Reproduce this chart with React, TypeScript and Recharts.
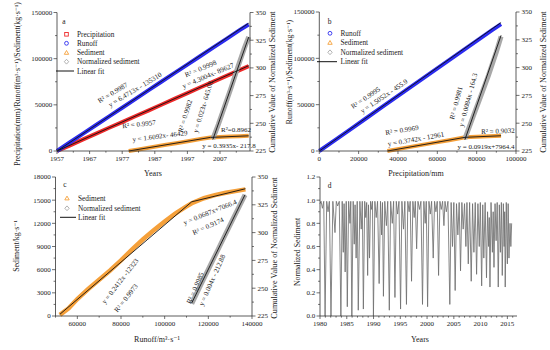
import React from 'react';
import { ComposedChart, Line, XAxis, YAxis } from 'recharts';

const FONT = '"Liberation Serif", "Times New Roman", "DejaVu Serif", serif';
const RED = '#ee2a2a';
const BLUE = '#2b2bf0';
const ORANGE = '#f5a03a';
const GRAY = '#a8a8a8';
const FIT = '#111111';
const AX = '#333333';

// ---------- Panel a (x = year) ----------
const yearsA = [1957, 1961, 1965, 1969, 1973, 1977, 1981, 1985, 1989, 1993, 1997, 2001, 2005, 2009, 2013, 2015.8];
const precipA = [0, 6100, 12600, 18900, 25200, 31300, 37600, 43800, 50100, 56500, 62700, 69000, 75200, 81400, 87600, 92000];
const runoffA = [0, 9500, 18900, 28200, 37500, 46800, 56200, 65600, 75000, 84300, 93600, 102900, 112200, 121400, 130900, 137000];
const fitYearsA = [1957, 2015.8];
const precipFitA = [0, 92360];
const runoffFitA = [0, 138400];
const sedYearsA = [1979, 1982, 1986, 1990, 1994, 1998, 2001, 2004, 2007, 2010, 2013, 2015.8];
const sedA = [0, 1700, 4000, 6400, 8700, 11000, 12900, 14700, 15200, 15600, 16000, 16400];
const sedFitYearsA = [1979, 2004.1, 2015.8];
const sedFitA = [0, 14740, 16430];
const normYearsA = [2004.8, 2006.5, 2008.5, 2010.5, 2012.5, 2014.5, 2015.8];
const normA = [236, 249, 266, 283, 301, 318, 328];
const normFitYearsA = [2004.8, 2015.8];
const normFitA = [235.3, 327.8];

// ---------- Panel b (x = cumulative precipitation) ----------
const precipB = [0, 8000, 16000, 24000, 32000, 40000, 48000, 56000, 64000, 72000, 80000, 88000, 92400];
const runoffB = [0, 11800, 23700, 35600, 47500, 59400, 71300, 83200, 95100, 107000, 118800, 130700, 137000];
const runoffFitPrecipB = [0, 92400];
const runoffFitB = [0, 138600];
const sedPrecipB = [34600, 42000, 50000, 58000, 66000, 74100, 80000, 86000, 92400];
const sedB = [0, 2800, 5800, 8800, 11700, 14800, 15300, 15900, 16450];
const sedFitPrecipB = [34640, 74125, 92400];
const sedFitB = [0, 14777, 16455];
const normPrecipB = [74000, 78000, 82000, 86000, 90000, 92400];
const normB = [236, 255, 274, 293, 314, 328];
const normFitPrecipB = [74000, 92400];
const normFitB = [235, 329];

// ---------- Panel c (x = cumulative runoff) ----------
const runoffC = [52000, 56000, 60000, 65000, 70000, 75000, 80000, 85000, 90000, 95000, 100000, 105000, 110000, 112400, 118000, 123000, 128000, 133000, 137000];
const sedC = [150, 1000, 2200, 3500, 4700, 5900, 7200, 8600, 9900, 11100, 12250, 13300, 14200, 14600, 15250, 15650, 15950, 16200, 16400];
const sedFitRunoffC = [52000, 112400, 137000];
const sedFitC = [220, 14790, 16480];
const normRunoffC = [112400, 116000, 120000, 124000, 128000, 132000, 136800];
const normC = [236, 251, 267, 283, 299, 315, 334];
const normFitRunoffC = [112400, 136800];
const normFitC = [236.7, 334];

// ---------- Panel d (normalized sediment series) ----------
const normalizedD: [number, number][] = [
  [1980.0, 0.97], [1980.2, 0.99], [1980.45, 0.93], [1980.7, 0.99], [1980.95, 0.0], [1981.25, 0.99], [1981.5, 0.9], [1981.75, 0.99],
  [1982.05, 0.0], [1982.4, 0.99], [1982.8, 0.72], [1983.05, 0.99], [1983.3, 0.95], [1983.6, 0.99], [1983.9, 0.0], [1984.15, 0.99],
  [1984.35, 0.55], [1984.5, 0.97], [1984.7, 0.38], [1984.9, 0.99], [1985.1, 0.08], [1985.35, 0.99], [1985.6, 0.8], [1985.75, 0.99],
  [1985.95, 0.0], [1986.2, 0.99], [1986.4, 0.62], [1986.55, 0.96], [1986.75, 0.5], [1986.95, 0.99], [1987.15, 0.05], [1987.45, 0.99],
  [1987.7, 0.75], [1987.9, 0.99], [1988.1, 0.06], [1988.35, 0.99], [1988.55, 0.85], [1988.72, 0.98], [1988.9, 0.35], [1989.05, 0.96],
  [1989.25, 0.5], [1989.45, 0.99], [1989.6, 0.92], [1989.8, 0.99], [1989.98, 0.0], [1990.25, 0.99], [1990.5, 0.85], [1990.75, 0.99],
  [1991.05, 0.28], [1991.3, 0.99], [1991.5, 0.7], [1991.67, 0.98], [1991.85, 0.17], [1992.1, 0.99], [1992.4, 0.78], [1992.65, 0.99],
  [1992.95, 0.05], [1993.2, 0.99], [1993.5, 0.8], [1993.75, 0.99], [1994.0, 0.16], [1994.25, 0.99], [1994.5, 0.88], [1994.75, 0.99],
  [1995.05, 0.06], [1995.3, 0.99], [1995.6, 0.75], [1995.85, 0.99], [1996.15, 0.1], [1996.4, 0.99], [1996.65, 0.9], [1996.85, 0.99],
  [1997.1, 0.3], [1997.35, 0.99], [1997.6, 0.85], [1997.8, 0.99], [1998.05, 0.58], [1998.3, 0.99], [1998.6, 0.92], [1998.85, 0.99],
  [1999.15, 0.1], [1999.4, 0.99], [1999.65, 0.8], [1999.85, 0.99], [2000.1, 0.08], [2000.35, 0.99], [2000.6, 0.88], [2000.85, 0.99],
  [2001.15, 0.5], [2001.4, 0.99], [2001.65, 0.9], [2001.9, 0.99], [2002.15, 0.35], [2002.4, 0.99], [2002.65, 0.92], [2002.9, 0.99],
  [2003.15, 0.78], [2003.35, 0.99], [2003.6, 0.9], [2003.9, 0.99], [2004.25, 0.1], [2004.5, 0.98], [2004.75, 0.6], [2005.0, 0.98],
  [2005.25, 0.22], [2005.5, 0.97], [2005.75, 0.7], [2006.0, 0.98], [2006.25, 0.39], [2006.5, 0.98], [2006.75, 0.75], [2007.0, 0.97],
  [2007.25, 0.6], [2007.45, 0.98], [2007.7, 0.45], [2007.95, 0.98], [2008.25, 0.3], [2008.5, 0.97], [2008.75, 0.55], [2009.0, 0.98],
  [2009.25, 0.36], [2009.5, 0.97], [2009.75, 0.6], [2009.95, 0.98], [2010.2, 0.26], [2010.4, 0.96], [2010.6, 0.5], [2010.85, 0.98],
  [2011.1, 0.33], [2011.3, 0.9], [2011.5, 0.6], [2011.62, 0.85], [2011.75, 0.25], [2011.95, 0.98], [2012.2, 0.55], [2012.35, 0.9],
  [2012.5, 0.42], [2012.7, 0.97], [2012.9, 0.65], [2013.1, 0.98], [2013.3, 0.25], [2013.5, 0.96], [2013.7, 0.55], [2013.88, 0.98],
  [2014.05, 0.35], [2014.25, 0.97], [2014.4, 0.6], [2014.5, 0.9], [2014.6, 0.25], [2014.8, 0.98], [2015.0, 0.45], [2015.15, 0.97],
  [2015.3, 0.5], [2015.5, 0.8], [2015.65, 0.6], [2015.8, 0.8],
];

// ---------- Tick lists ----------
const ticksAX = [1957, 1962, 1967, 1972, 1977, 1982, 1987, 1992, 1997, 2002, 2007, 2012];
const majorsAX = [1957, 1967, 1977, 1987, 1997, 2007];
const ticksBigY = [0, 25000, 50000, 75000, 100000, 125000, 150000];
const majorsBigY = [0, 50000, 100000, 150000];
const ticksNorm = [225, 237.5, 250, 262.5, 275, 287.5, 300, 312.5, 325, 337.5, 350];
const majorsNorm = [225, 250, 275, 300, 325, 350];
const ticksBX = [0, 10000, 20000, 30000, 40000, 50000, 60000, 70000, 80000, 90000, 100000];
const majorsBX = [0, 20000, 40000, 60000, 80000, 100000];
const ticksCX = [50000, 60000, 70000, 80000, 90000, 100000, 110000, 120000, 130000, 140000];
const majorsCX = [60000, 80000, 100000, 120000, 140000];
const ticksCY = [0, 1500, 3000, 4500, 6000, 7500, 9000, 10500, 12000, 13500, 15000, 16500, 18000];
const majorsCY = [0, 3000, 6000, 9000, 12000, 15000, 18000];
const ticksDX = [1980, 1981, 1982, 1983, 1984, 1985, 1986, 1987, 1988, 1989, 1990, 1991, 1992, 1993, 1994, 1995, 1996, 1997, 1998, 1999, 2000, 2001, 2002, 2003, 2004, 2005, 2006, 2007, 2008, 2009, 2010, 2011, 2012, 2013, 2014, 2015, 2016];
const majorsDX = [1980, 1985, 1990, 1995, 2000, 2005, 2010, 2015];
const ticksDY = [0, 0.1, 0.2, 0.3, 0.4, 0.5, 0.6, 0.7, 0.8, 0.9, 1.0, 1.1, 1.2];
const majorsDY = [0, 0.2, 0.4, 0.6, 0.8, 1.0, 1.2];

const toXY = (xs: number[], ys: number[]) => xs.map((x, i) => ({ x, y: ys[i] }));
const pairsXY = (p: [number, number][]) => p.map(([x, y]) => ({ x, y }));

type Orient = 'left' | 'right' | 'bottom';
function makeTick(orient: Orient, majors: number[], fmt: (v: number) => string, size: number, margin: number) {
  return (props: any) => {
    const { x, y, payload } = props;
    const v = Number(payload.value);
    const major = majors.some((m) => Math.abs(m - v) < 1e-6);
    const len = major ? size : size * 0.55;
    const txt = { fontFamily: FONT, fontSize: 7, fill: '#222' };
    if (orient === 'bottom') {
      const ay = y - margin - size;
      return (
        <g>
          <line x1={x} x2={x} y1={ay} y2={ay + len} stroke={AX} strokeWidth={0.7} />
          {major && (
            <text x={x} y={ay + size + margin} dy="0.76em" textAnchor="middle" style={txt}>
              {fmt(v)}
            </text>
          )}
        </g>
      );
    }
    if (orient === 'left') {
      const ax = x + margin + size;
      return (
        <g>
          <line x1={ax - len} x2={ax} y1={y} y2={y} stroke={AX} strokeWidth={0.7} />
          {major && (
            <text x={ax - size - margin} y={y} dy="0.34em" textAnchor="end" style={txt}>
              {fmt(v)}
            </text>
          )}
        </g>
      );
    }
    const ax = x - margin - size;
    return (
      <g>
        <line x1={ax} x2={ax + len} y1={y} y2={y} stroke={AX} strokeWidth={0.7} />
        {major && (
          <text x={ax + size + margin} y={y} dy="0.34em" textAnchor="start" style={txt}>
            {fmt(v)}
          </text>
        )}
      </g>
    );
  };
}

const fmtInt = (v: number) => String(Math.round(v));
const fmt1 = (v: number) => v.toFixed(1);
const axisLine = { stroke: AX, strokeWidth: 0.8 };

// ---------- overlay text helpers ----------
const T = (props: { x: number; y: number; r?: number; s?: number; a?: 'start' | 'middle' | 'end'; children: React.ReactNode }) => {
  const { x, y, r = 0, s = 7, a = 'middle', children } = props;
  return (
    <text
      x={x}
      y={y}
      dy="0.35em"
      textAnchor={a}
      transform={r ? `rotate(${r} ${x} ${y})` : undefined}
      style={{ fontFamily: FONT, fontSize: s, fill: '#1a1a1a' }}
    >
      {children}
    </text>
  );
};

const Square = ({ x, y, c }: { x: number; y: number; c: string }) => (
  <rect x={x - 1.8} y={y - 1.8} width={3.6} height={3.6} fill="none" stroke={c} strokeWidth={0.9} />
);
const Circle = ({ x, y, c }: { x: number; y: number; c: string }) => (
  <circle cx={x} cy={y} r={1.9} fill="none" stroke={c} strokeWidth={0.9} />
);
const Tri = ({ x, y, c }: { x: number; y: number; c: string }) => (
  <polygon points={`${x},${y - 2.2} ${x + 2.2},${y + 1.6} ${x - 2.2},${y + 1.6}`} fill="none" stroke={c} strokeWidth={0.9} />
);
const Diamond = ({ x, y, c }: { x: number; y: number; c: string }) => (
  <polygon points={`${x},${y - 2.4} ${x + 2.2},${y} ${x},${y + 2.4} ${x - 2.2},${y}`} fill="none" stroke={c} strokeWidth={0.9} />
);

const LS = 7.3;

export default function App() {
  return (
    <div style={{ position: 'absolute', left: 0, top: 0, width: 550, height: 350, background: '#fff', overflow: 'hidden' }}>
      {/* Panel a */}
      <div style={{ position: 'absolute', left: 0, top: 0 }}>
        <ComposedChart width={300} height={175} margin={{ top: 12.5, right: 0, bottom: 0, left: 0 }}>
          <XAxis
            dataKey="x"
            type="number"
            domain={[1957, 2016.2]}
            ticks={ticksAX}
            interval={0}
            height={24}
            tickSize={3}
            tickMargin={1.5}
            tickLine={false}
            axisLine={axisLine}
            tick={makeTick('bottom', majorsAX, fmtInt, 3, 1.5)}
          />
          <YAxis
            yAxisId="left"
            width={57}
            domain={[0, 150000]}
            ticks={ticksBigY}
            interval={0}
            tickSize={3.5}
            tickMargin={1.2}
            tickLine={false}
            axisLine={axisLine}
            tick={makeTick('left', majorsBigY, fmtInt, 3.5, 1.2)}
          />
          <YAxis
            yAxisId="right"
            orientation="right"
            width={50}
            domain={[225, 350]}
            ticks={ticksNorm}
            interval={0}
            tickSize={3.5}
            tickMargin={2}
            tickLine={false}
            axisLine={axisLine}
            tick={makeTick('right', majorsNorm, fmtInt, 3.5, 2)}
          />
          <Line yAxisId="left" data={toXY(yearsA, precipA)} dataKey="y" stroke={RED} strokeWidth={4} dot={false} isAnimationActive={false} />
          <Line yAxisId="left" data={toXY(yearsA, runoffA)} dataKey="y" stroke={BLUE} strokeWidth={4} dot={false} isAnimationActive={false} />
          <Line yAxisId="left" data={toXY(sedYearsA, sedA)} dataKey="y" stroke={ORANGE} strokeWidth={4} dot={false} isAnimationActive={false} />
          <Line yAxisId="right" data={toXY(normYearsA, normA)} dataKey="y" stroke={GRAY} strokeWidth={5} dot={false} isAnimationActive={false} />
          <Line yAxisId="left" data={toXY(fitYearsA, precipFitA)} dataKey="y" stroke={FIT} strokeWidth={0.9} dot={false} isAnimationActive={false} />
          <Line yAxisId="left" data={toXY(fitYearsA, runoffFitA)} dataKey="y" stroke={FIT} strokeWidth={0.9} dot={false} isAnimationActive={false} />
          <Line yAxisId="left" data={toXY(sedFitYearsA, sedFitA)} dataKey="y" stroke={FIT} strokeWidth={0.9} dot={false} isAnimationActive={false} />
          <Line yAxisId="right" data={toXY(normFitYearsA, normFitA)} dataKey="y" stroke={FIT} strokeWidth={0.9} dot={false} isAnimationActive={false} />
        </ComposedChart>
      </div>

      {/* Panel b */}
      <div style={{ position: 'absolute', left: 260, top: 0 }}>
        <ComposedChart width={290} height={175} margin={{ top: 12, right: 0, bottom: 0, left: 0 }}>
          <XAxis
            dataKey="x"
            type="number"
            domain={[0, 100000]}
            ticks={ticksBX}
            interval={0}
            height={24}
            tickSize={3}
            tickMargin={1.5}
            tickLine={false}
            axisLine={axisLine}
            tick={makeTick('bottom', majorsBX, fmtInt, 3, 1.5)}
          />
          <YAxis
            yAxisId="left"
            width={59.3}
            domain={[0, 150000]}
            ticks={ticksBigY}
            interval={0}
            tickSize={3.5}
            tickMargin={1.2}
            tickLine={false}
            axisLine={axisLine}
            tick={makeTick('left', majorsBigY, fmtInt, 3.5, 1.2)}
          />
          <YAxis
            yAxisId="right"
            orientation="right"
            width={34}
            domain={[225, 350]}
            ticks={ticksNorm}
            interval={0}
            tickSize={3.5}
            tickMargin={2}
            tickLine={false}
            axisLine={axisLine}
            tick={makeTick('right', majorsNorm, fmtInt, 3.5, 2)}
          />
          <Line yAxisId="left" data={toXY(precipB, runoffB)} dataKey="y" stroke={BLUE} strokeWidth={4} dot={false} isAnimationActive={false} />
          <Line yAxisId="left" data={toXY(sedPrecipB, sedB)} dataKey="y" stroke={ORANGE} strokeWidth={4} dot={false} isAnimationActive={false} />
          <Line yAxisId="right" data={toXY(normPrecipB, normB)} dataKey="y" stroke={GRAY} strokeWidth={5} dot={false} isAnimationActive={false} />
          <Line yAxisId="left" data={toXY(runoffFitPrecipB, runoffFitB)} dataKey="y" stroke={FIT} strokeWidth={0.9} dot={false} isAnimationActive={false} />
          <Line yAxisId="left" data={toXY(sedFitPrecipB, sedFitB)} dataKey="y" stroke={FIT} strokeWidth={0.9} dot={false} isAnimationActive={false} />
          <Line yAxisId="right" data={toXY(normFitPrecipB, normFitB)} dataKey="y" stroke={FIT} strokeWidth={0.9} dot={false} isAnimationActive={false} />
        </ComposedChart>
      </div>

      {/* Panel c */}
      <div style={{ position: 'absolute', left: 0, top: 165 }}>
        <ComposedChart width={290} height={185} margin={{ top: 12, right: 0, bottom: 0, left: 0 }}>
          <XAxis
            dataKey="x"
            type="number"
            domain={[50000, 140000]}
            ticks={ticksCX}
            interval={0}
            height={34}
            tickSize={3}
            tickMargin={1.5}
            tickLine={false}
            axisLine={axisLine}
            tick={makeTick('bottom', majorsCX, fmtInt, 3, 1.5)}
          />
          <YAxis
            yAxisId="left"
            width={55.5}
            domain={[0, 18000]}
            ticks={ticksCY}
            interval={0}
            tickSize={3.5}
            tickMargin={1.2}
            tickLine={false}
            axisLine={axisLine}
            tick={makeTick('left', majorsCY, fmtInt, 3.5, 1.2)}
          />
          <YAxis
            yAxisId="right"
            orientation="right"
            width={38}
            domain={[225, 350]}
            ticks={ticksNorm}
            interval={0}
            tickSize={3.5}
            tickMargin={2}
            tickLine={false}
            axisLine={axisLine}
            tick={makeTick('right', majorsNorm, fmtInt, 3.5, 2)}
          />
          <Line yAxisId="left" data={toXY(runoffC, sedC)} dataKey="y" stroke={ORANGE} strokeWidth={4.5} dot={false} isAnimationActive={false} />
          <Line yAxisId="right" data={toXY(normRunoffC, normC)} dataKey="y" stroke={GRAY} strokeWidth={5} dot={false} isAnimationActive={false} />
          <Line yAxisId="left" data={toXY(sedFitRunoffC, sedFitC)} dataKey="y" stroke={FIT} strokeWidth={0.9} dot={false} isAnimationActive={false} />
          <Line yAxisId="right" data={toXY(normFitRunoffC, normFitC)} dataKey="y" stroke={FIT} strokeWidth={0.9} dot={false} isAnimationActive={false} />
        </ComposedChart>
      </div>

      {/* Panel d */}
      <div style={{ position: 'absolute', left: 260, top: 165 }}>
        <ComposedChart width={290} height={185} margin={{ top: 12, right: 33, bottom: 0, left: 0 }}>
          <XAxis
            dataKey="x"
            type="number"
            domain={[1980, 2016.8]}
            ticks={ticksDX}
            interval={0}
            height={34}
            tickSize={3}
            tickMargin={1.5}
            tickLine={false}
            axisLine={axisLine}
            tick={makeTick('bottom', majorsDX, fmtInt, 3, 1.5)}
          />
          <YAxis
            yAxisId="left"
            width={60}
            domain={[0, 1.2]}
            ticks={ticksDY}
            interval={0}
            tickSize={3.5}
            tickMargin={1.2}
            tickLine={false}
            axisLine={axisLine}
            tick={makeTick('left', majorsDY, fmt1, 3.5, 1.2)}
          />
          <Line yAxisId="left" data={pairsXY(normalizedD)} dataKey="y" stroke="#707070" strokeWidth={0.85} dot={false} isAnimationActive={false} />
        </ComposedChart>
      </div>

      {/* Text overlay */}
      <svg width={550} height={350} style={{ position: 'absolute', left: 0, top: 0, pointerEvents: 'none' }}>
        {/* axis titles */}
        <T x={17} y={84} r={-90} s={7.8}>Precipitation(mm)/Runoff(m³·s⁻¹)/Sediment(kg·s⁻¹)</T>
        <T x={272} y={82} r={-90} s={8.2}>Cumulative Value of Normalized Sediment</T>
        <T x={153} y={173} s={8}>Years</T>
        <T x={289} y={72} r={-90} s={7.8}>Runoff(m³·s⁻¹)/Sediment(kg·s⁻¹)</T>
        <T x={543} y={82} r={-90} s={8.2}>Cumulative Value of Normalized Sediment</T>
        <T x={416} y={173.5} s={8}>Precipitation/mm</T>
        <T x={16} y={246} r={-90} s={7.8}>Sediment/kg·s⁻¹</T>
        <T x={274} y={248} r={-90} s={8.2}>Cumulative Value of Normalized Sediment</T>
        <T x={157} y={339} s={8}>Runoff/m³·s⁻¹</T>
        <T x={297} y={252} r={-90} s={7.8}>Normalized Sediment</T>
        <T x={420} y={339} s={8}>Years</T>

        {/* legend a */}
        <T x={64} y={21} s={7.5}>a</T>
        <Square x={66.5} y={34.3} c={RED} />
        <T x={77} y={34.3} s={LS} a="start">Precipitation</T>
        <Circle x={66.5} y={43.3} c={BLUE} />
        <T x={77} y={43.3} s={LS} a="start">Runoff</T>
        <Tri x={66.5} y={52.7} c={ORANGE} />
        <T x={77} y={52.7} s={LS} a="start">Sediment</T>
        <Diamond x={66.5} y={61.7} c={GRAY} />
        <T x={77} y={61.7} s={LS} a="start">Normalized sediment</T>
        <line x1={56} x2={74} y1={71} y2={71} stroke={FIT} strokeWidth={1} />
        <T x={77} y={71} s={LS} a="start">Linear fit</T>

        {/* legend b */}
        <T x={329.5} y={21} s={7.5}>b</T>
        <Circle x={330} y={33.3} c={BLUE} />
        <T x={340.5} y={33.3} s={LS} a="start">Runoff</T>
        <Tri x={330} y={42.7} c={ORANGE} />
        <T x={340.5} y={42.7} s={LS} a="start">Sediment</T>
        <Diamond x={330} y={52.3} c={GRAY} />
        <T x={340.5} y={52.3} s={LS} a="start">Normalized sediment</T>
        <line x1={317} x2={337} y1={61.7} y2={61.7} stroke={FIT} strokeWidth={1} />
        <T x={340.5} y={61.7} s={LS} a="start">Linear fit</T>

        {/* legend c */}
        <T x={65} y={184} s={7.5}>c</T>
        <Tri x={67} y={198.3} c={ORANGE} />
        <T x={78} y={198.3} s={LS} a="start">Sediment</T>
        <Diamond x={67} y={208.3} c={GRAY} />
        <T x={78} y={208.3} s={LS} a="start">Normalized sediment</T>
        <line x1={60} x2={76} y1={217.3} y2={217.3} stroke={FIT} strokeWidth={1} />
        <T x={78} y={217.3} s={LS} a="start">Linear fit</T>

        {/* label d */}
        <T x={329.5} y={185} s={7.5}>d</T>

        {/* annotations a */}
        <T x={112.7} y={92.6} r={-31}>R² = 0.9987</T>
        <T x={135} y={89.5} r={-31}>y = 6.4713x - 135310</T>
        <T x={200.5} y={68.5} r={-23}>R² = 0.9998</T>
        <T x={208} y={75.5} r={-23}>y = 4.3004x- 89627</T>
        <T x={139} y={124} r={-6}>R² = 0.9957</T>
        <T x={160} y={136} r={-7}>y = 1.6092x- 46429</T>
        <T x={185} y={116} r={-73}>R² = 0.9982</T>
        <T x={203} y={107} r={-73}>y = 0.023x- 645.08</T>
        <T x={236} y={130}>R²=0.8962</T>
        <T x={229} y={146}>y = 0.3935x- 217.8</T>

        {/* annotations b */}
        <T x={365.5} y={97.7} r={-34}>R² = 0.9995</T>
        <T x={384} y={96} r={-34}>y = 1.5052x - 455.9</T>
        <T x={402} y={130} r={-9}>R² = 0.9969</T>
        <T x={416} y={139} r={-10}>y = 0.3742x - 12961</T>
        <T x={498} y={131} r={-2}>R² = 0.9032</T>
        <T x={486} y={146.5}>y = 0.0919x+7964.4</T>
        <T x={456} y={103} r={-75}>R² = 0.9981</T>
        <T x={468} y={100} r={-75}>y = 0.0084x - 164.3</T>

        {/* annotations c */}
        <T x={120} y={281} r={-52}>y = 0.2412x -12323</T>
        <T x={126} y={298} r={-52}>R² = 0.9973</T>
        <T x={210} y={212} r={-22}>y = 0.0687x+7066.4</T>
        <T x={208} y={226} r={-24}>R² = 0.9174</T>
        <T x={195} y={288} r={-66}>R² = 0.9985</T>
        <T x={212} y={280} r={-66}>y = 0.004x - 212.88</T>
      </svg>
    </div>
  );
}
